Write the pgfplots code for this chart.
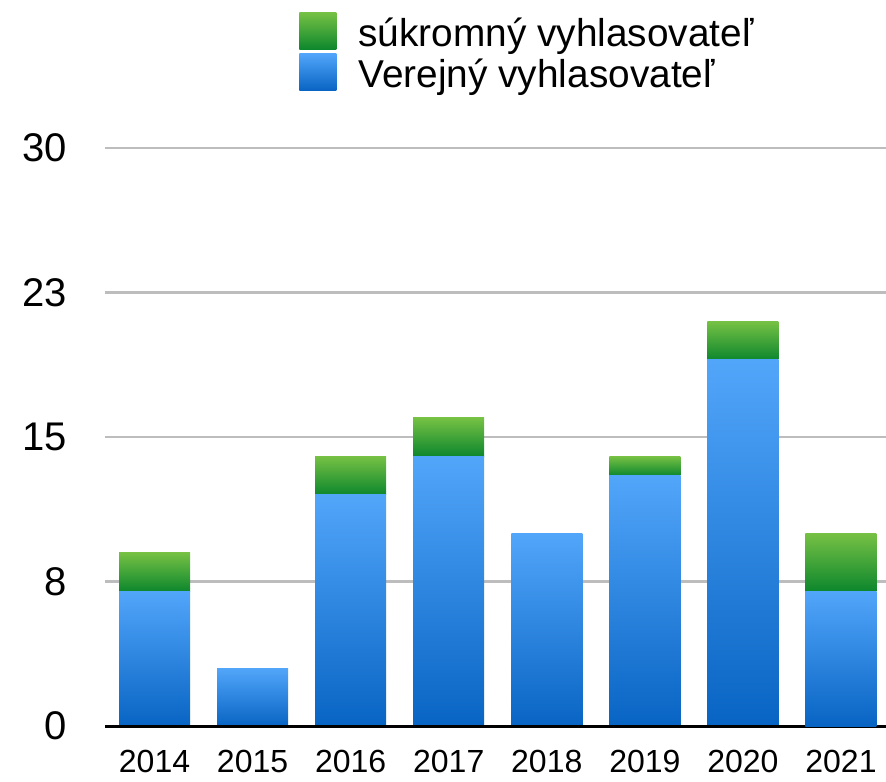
\documentclass[border=0pt]{standalone}
\usepackage{fontspec}
\setmainfont{Liberation Sans}
\usepackage{pgfplots}
\pgfplotsset{compat=1.18}
\definecolor{bluetop}{HTML}{52A6FA}
\definecolor{bluebot}{HTML}{0864C3}
\definecolor{greentop}{HTML}{76C144}
\definecolor{greenbot}{HTML}{0D872D}
\definecolor{gridgray}{HTML}{BDBDBD}

\pgfplotsset{
  frame/.style={
    scale only axis, width=390.5pt, height=289pt,
    at={(0,0)}, anchor=south west,
    ybar stacked, bar width=35.5pt,
    xmin=-0.505, xmax=7.459, ymin=0, ymax=30,
  },
  % one stack per axis, so that every bar gets its own gradient
  overlay/.style={frame, hide axis},
  blue bar/.style={draw=none, top color=bluetop, bottom color=bluebot},
  green bar/.style={draw=none, top color=greentop, bottom color=greenbot},
}

\begin{document}
\begin{tikzpicture}
\useasboundingbox (-52.5pt,-27.5pt) rectangle (390.5pt,363pt);
\begin{axis}[
  frame,
  xtick={0,1,2,3,4,5,6,7},
  xticklabels={2014,2015,2016,2017,2018,2019,2020,2021},
  ytick={0,7.5,15,22.5,30}, yticklabels={0,8,15,23,30},
  axis x line*=bottom, axis y line*=left,
  x axis line style={draw=none},
  y axis line style={draw=none},
  major tick length=0pt,
  ymajorgrids, grid style={gridgray, line width=1.2pt},
  yticklabel style={anchor=east, inner sep=0pt, xshift=-19pt,
    font=\fontsize{20pt}{20pt}\selectfont},
  xticklabel style={anchor=north, inner sep=0pt, yshift=-12pt,
    font=\fontsize{16pt}{16pt}\selectfont},
  reverse legend,
  legend image code/.code={\path[#1] (0pt,-8.75pt) rectangle (18.5pt,9.75pt);},
  legend style={at={(rel axis cs:0,1)}, anchor=north west,
    xshift=97pt, yshift=68.5pt, draw=none, fill=none, inner sep=0pt,
    row sep=0pt, font=\fontsize{19.4pt}{19.4pt}\selectfont,
    nodes={inner sep=0pt, text height=17.5pt, text depth=3pt},
    /tikz/every odd column/.append style={column sep=11pt}},
  legend cell align=left,
]
\addplot[blue bar] coordinates {(0,7)};
\addlegendentry{Verejný vyhlasovateľ}
\addplot[green bar] coordinates {(0,2)};
\addlegendentry{súkromný vyhlasovateľ}
\end{axis}

\begin{axis}[overlay]
\addplot[blue bar] coordinates {(1,3)};
\end{axis}
\begin{axis}[overlay]
\addplot[blue bar] coordinates {(2,12)};
\addplot[green bar] coordinates {(2,2)};
\end{axis}
\begin{axis}[overlay]
\addplot[blue bar] coordinates {(3,14)};
\addplot[green bar] coordinates {(3,2)};
\end{axis}
\begin{axis}[overlay]
\addplot[blue bar] coordinates {(4,10)};
\end{axis}
\begin{axis}[overlay]
\addplot[blue bar] coordinates {(5,13)};
\addplot[green bar] coordinates {(5,1)};
\end{axis}
\begin{axis}[overlay]
\addplot[blue bar] coordinates {(6,19)};
\addplot[green bar] coordinates {(6,2)};
\end{axis}

% last stack, and the black base line on top of all bars
\begin{axis}[frame,
  axis x line*=bottom, axis y line=none,
  x axis line style={black, line width=1.5pt},
  xtick=\empty, ytick=\empty]
\addplot[blue bar] coordinates {(7,7)};
\addplot[green bar] coordinates {(7,3)};
\end{axis}
\end{tikzpicture}
\end{document}
